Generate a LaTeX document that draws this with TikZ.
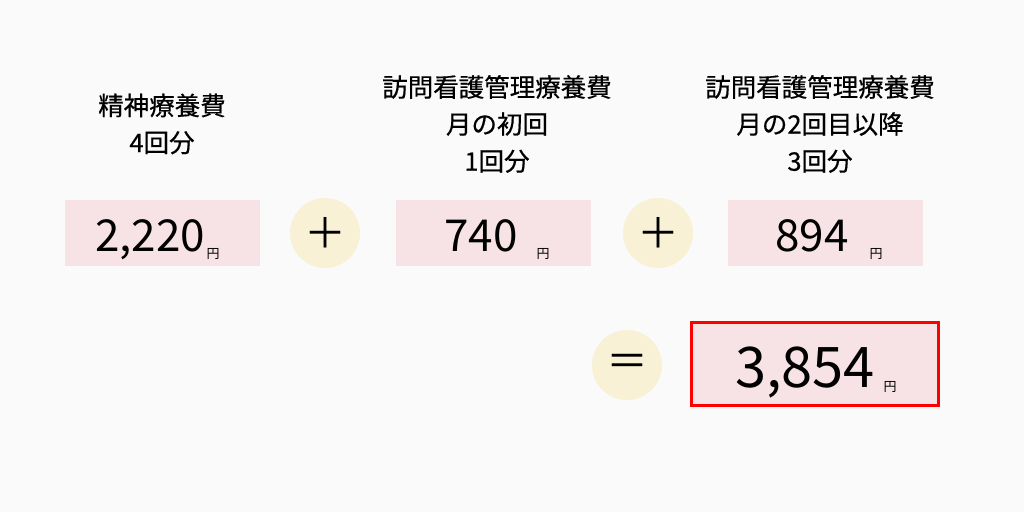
\documentclass[tikz,border=0pt]{standalone}
\usepackage{fontspec}
\setmainfont{Noto Sans CJK JP}
\newfontfamily\capfont[FakeBold=0.5]{Noto Sans CJK JP}
\usepackage{tikz}
\usetikzlibrary{positioning,calc}

\definecolor{bgcol}{HTML}{FAFAFA}
\definecolor{boxpink}{HTML}{F7E3E6}
\definecolor{opcol}{HTML}{F8F1D6}
\definecolor{sumred}{HTML}{FF0000}

\begin{document}
\begin{tikzpicture}[
    x=1pt, y=-1pt,
    price/.style={rectangle, fill=boxpink, minimum width=195pt, minimum height=66pt, inner sep=0pt},
    op/.style={circle, fill=opcol, minimum size=70pt, inner sep=0pt, font=\fontsize{42}{42}\selectfont},
    caption/.style={align=center, font=\capfont\fontsize{25.5}{37}\selectfont},
    amount/.style={font=\fontsize{44}{44}\selectfont, anchor=base, inner sep=0pt},
    yen/.style={font=\fontsize{13}{13}\selectfont, anchor=base, inner sep=0pt}
]
\fill[bgcol] (0,0) rectangle (1024,512);

% labels
\node[caption] (lab1) at (162,124) {精神療養費\\4回分};
\node[caption] (lab2) at (497,124) {訪問看護管理療養費\\月の初回\\1回分};
\node[caption] (lab3) at (820,124) {訪問看護管理療養費\\月の2回目以降\\3回分};

% boxes
\node[price] (p1) at (162.5,233) {};
\node[price] (p2) at (493.5,233) {};
\node[price] (p3) at (825.5,233) {};
\node[op] (plus1) at (325,233) {＋};
\node[op] (plus2) at (658,233) {＋};

\node[amount] (v1) at (150,251) {2,220};
\node[yen] (y1) at (213,258) {円};
\node[amount] (v2) at (481,251) {740};
\node[yen] (y2) at (543,258) {円};
\node[amount] (v3) at (812,251) {894};
\node[yen] (y3) at (876,258) {円};

% total
\node[op] (eq) at (627,365) {＝};
\node[rectangle, fill=boxpink, draw=sumred, line width=3pt, minimum width=247pt, minimum height=83pt] (total) at (815,364) {};
\node[amount, font=\fontsize{56}{56}\selectfont] (v4) at (805,387) {3,854};
\node[yen] (y4) at (890,391) {円};
\end{tikzpicture}
\end{document}
